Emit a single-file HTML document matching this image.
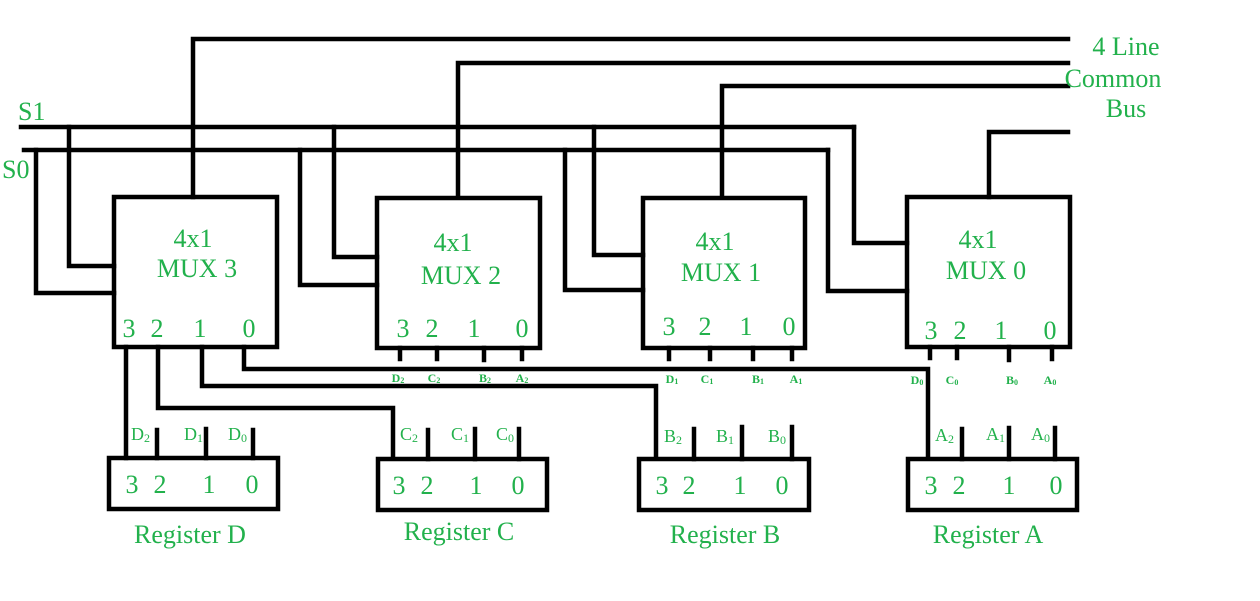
<!DOCTYPE html>
<html><head><meta charset="utf-8"><style>
html,body{margin:0;padding:0;background:#fff;}
svg{display:block;}
text{font-family:"Liberation Serif",serif;fill:#22b14c;}
.b{font-size:26px;}
.s{font-size:12px;font-weight:bold;}
.m{font-size:18px;}
</style></head><body>
<svg width="1260" height="601" viewBox="0 0 1260 601" xmlns="http://www.w3.org/2000/svg">
<g stroke="#000" stroke-width="4.5" fill="none" stroke-linecap="square">
<polyline points="193,197 193,39 1068,39"/>
<polyline points="458,197 458,63 1068,63"/>
<polyline points="722,197 722,86 1068,86"/>
<polyline points="989,197 989,132 1068,132"/>
<line x1="21" y1="127" x2="854" y2="127"/>
<line x1="24" y1="150" x2="828" y2="150"/>
<polyline points="69,127 69,266 114,266"/>
<polyline points="36,150 36,293 114,293"/>
<polyline points="334,127 334,257 377,257"/>
<polyline points="300,150 300,285 377,285"/>
<polyline points="594,127 594,255 643,255"/>
<polyline points="565,150 565,290 643,290"/>
<polyline points="854,127 854,243 907,243"/>
<polyline points="828,150 828,291 907,291"/>
<rect x="114" y="197" width="163" height="150"/>
<rect x="377" y="198" width="163" height="150"/>
<rect x="643" y="198" width="162" height="150"/>
<rect x="907" y="197" width="163" height="150"/>
<line x1="126" y1="347" x2="126" y2="458"/>
<polyline points="158,347 158,408 393,408 393,458"/>
<polyline points="202,347 202,386 656,386 656,458"/>
<polyline points="244,347 244,369 928,369 928,458"/>
<line x1="400" y1="348" x2="400" y2="359"/>
<line x1="437" y1="348" x2="437" y2="359"/>
<line x1="484" y1="348" x2="484" y2="360"/>
<line x1="522" y1="348" x2="522" y2="359"/>
<line x1="669" y1="348" x2="669" y2="359"/>
<line x1="710" y1="348" x2="710" y2="359"/>
<line x1="753" y1="348" x2="753" y2="359"/>
<line x1="792" y1="348" x2="792" y2="359"/>
<line x1="930" y1="347" x2="930" y2="358"/>
<line x1="957" y1="347" x2="957" y2="358"/>
<line x1="1009" y1="347" x2="1009" y2="360"/>
<line x1="1052" y1="347" x2="1052" y2="359"/>
<rect x="109" y="458" width="169" height="51"/>
<rect x="378" y="459" width="169" height="51"/>
<rect x="639" y="459" width="170" height="51"/>
<rect x="908" y="459" width="169" height="51"/>
<line x1="157" y1="430" x2="157" y2="458"/>
<line x1="206" y1="429" x2="206" y2="458"/>
<line x1="253" y1="430" x2="253" y2="458"/>
<line x1="428" y1="430" x2="428" y2="459"/>
<line x1="475" y1="429" x2="475" y2="459"/>
<line x1="519" y1="429" x2="519" y2="459"/>
<line x1="694" y1="429" x2="694" y2="459"/>
<line x1="742" y1="427" x2="742" y2="459"/>
<line x1="792" y1="427" x2="792" y2="459"/>
<line x1="962" y1="429" x2="962" y2="459"/>
<line x1="1009" y1="428" x2="1009" y2="459"/>
<line x1="1055" y1="428" x2="1055" y2="459"/>
</g>
<text class="b" x="18" y="120">S1</text>
<text class="b" x="2" y="178">S0</text>
<text class="b" x="1126" y="55" text-anchor="middle">4 Line</text>
<text class="b" x="1113" y="87" text-anchor="middle">Common</text>
<text class="b" x="1126" y="117" text-anchor="middle">Bus</text>

<text class="b" x="193" y="247" text-anchor="middle">4x1</text>
<text class="b" x="197" y="277" text-anchor="middle">MUX 3</text>
<text class="b" x="453" y="251" text-anchor="middle">4x1</text>
<text class="b" x="461" y="284" text-anchor="middle">MUX 2</text>
<text class="b" x="715" y="250" text-anchor="middle">4x1</text>
<text class="b" x="721" y="281" text-anchor="middle">MUX 1</text>
<text class="b" x="978" y="248" text-anchor="middle">4x1</text>
<text class="b" x="986" y="279" text-anchor="middle">MUX 0</text>

<g class="b" text-anchor="middle">
<text x="129" y="337">3</text><text x="157" y="337">2</text><text x="200" y="337">1</text><text x="249" y="337">0</text>
<text x="403" y="337">3</text><text x="432" y="337">2</text><text x="474" y="337">1</text><text x="522" y="337">0</text>
<text x="669" y="335">3</text><text x="705" y="335">2</text><text x="746" y="335">1</text><text x="789" y="335">0</text>
<text x="931" y="339">3</text><text x="960" y="339">2</text><text x="1001" y="339">1</text><text x="1050" y="339">0</text>
<text x="132" y="493">3</text><text x="160" y="493">2</text><text x="209" y="493">1</text><text x="252" y="493">0</text>
<text x="399" y="494">3</text><text x="427" y="494">2</text><text x="476" y="494">1</text><text x="518" y="494">0</text>
<text x="662" y="494">3</text><text x="689" y="494">2</text><text x="740" y="494">1</text><text x="782" y="494">0</text>
<text x="931" y="494">3</text><text x="959" y="494">2</text><text x="1009" y="494">1</text><text x="1056" y="494">0</text>
<text x="190" y="543">Register D</text>
<text x="459" y="540">Register C</text>
<text x="725" y="543">Register B</text>
<text x="988" y="543">Register A</text>
</g>
<g class="s" text-anchor="middle">
<text x="398" y="382">D<tspan font-size="8" dy="1">2</tspan></text>
<text x="434" y="382">C<tspan font-size="8" dy="1">2</tspan></text>
<text x="485" y="382">B<tspan font-size="8" dy="1">2</tspan></text>
<text x="522" y="382">A<tspan font-size="8" dy="1">2</tspan></text>
<text x="672" y="383">D<tspan font-size="8" dy="1">1</tspan></text>
<text x="707" y="383">C<tspan font-size="8" dy="1">1</tspan></text>
<text x="758" y="383">B<tspan font-size="8" dy="1">1</tspan></text>
<text x="796" y="383">A<tspan font-size="8" dy="1">1</tspan></text>
<text x="917" y="384">D<tspan font-size="8" dy="1">0</tspan></text>
<text x="952" y="384">C<tspan font-size="8" dy="1">0</tspan></text>
<text x="1012" y="384">B<tspan font-size="8" dy="1">0</tspan></text>
<text x="1050" y="384">A<tspan font-size="8" dy="1">0</tspan></text>
</g>
<g class="m">
<text x="131" y="440">D<tspan font-size="12" dy="2">2</tspan></text>
<text x="184" y="440">D<tspan font-size="12" dy="2">1</tspan></text>
<text x="228" y="440">D<tspan font-size="12" dy="2">0</tspan></text>
<text x="400" y="440">C<tspan font-size="12" dy="2">2</tspan></text>
<text x="451" y="440">C<tspan font-size="12" dy="2">1</tspan></text>
<text x="496" y="440">C<tspan font-size="12" dy="2">0</tspan></text>
<text x="664" y="442">B<tspan font-size="12" dy="2">2</tspan></text>
<text x="716" y="442">B<tspan font-size="12" dy="2">1</tspan></text>
<text x="768" y="442">B<tspan font-size="12" dy="2">0</tspan></text>
<text x="935" y="441">A<tspan font-size="12" dy="2">2</tspan></text>
<text x="986" y="440">A<tspan font-size="12" dy="2">1</tspan></text>
<text x="1031" y="440">A<tspan font-size="12" dy="2">0</tspan></text>
</g>
</svg>
</body></html>
